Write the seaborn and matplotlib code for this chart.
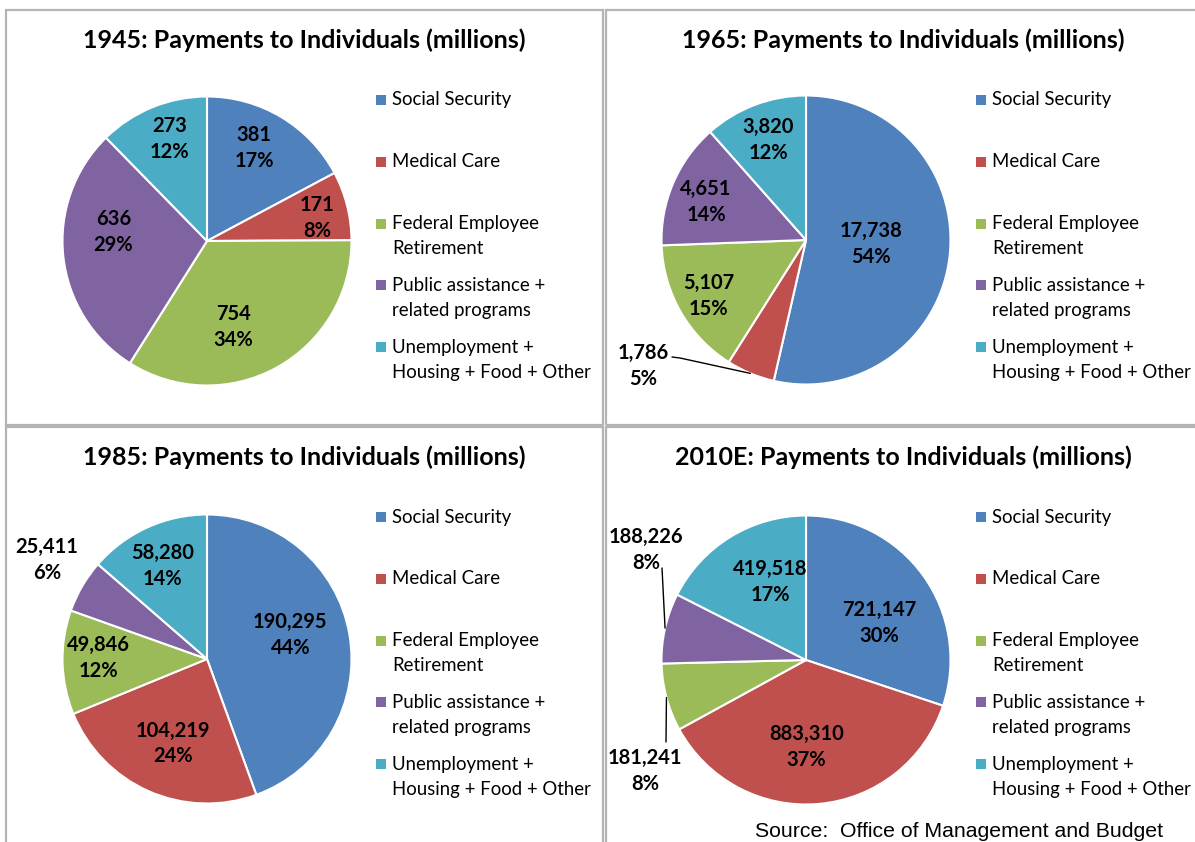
import numpy as np
import matplotlib
matplotlib.use("Agg")
import matplotlib.pyplot as plt
import seaborn as sns
from matplotlib.patches import Rectangle

# ---------------- data ----------------
categories = ["Social Security", "Medical Care", "Federal Employee\nRetirement",
              "Public assistance +\nrelated programs", "Unemployment +\nHousing + Food + Other"]
years = ["1945", "1965", "1985", "2010E"]
values_1945 = [381, 171, 754, 636, 273]
values_1965 = [17738, 1786, 5107, 4651, 3820]
values_1985 = [190295, 104219, 49846, 25411, 58280]
values_2010 = [721147, 883310, 181241, 188226, 419518]
pct_1945 = [17, 8, 34, 29, 12]
pct_1965 = [54, 5, 15, 14, 12]
pct_1985 = [44, 24, 12, 6, 14]
pct_2010 = [30, 37, 8, 8, 17]
title_suffix = ": Payments to Individuals (millions)"
source_text = "Source:  Office of Management and Budget"

# ---------------- style ----------------
colors = ["#4F81BD", "#C0504D", "#9BBB59", "#8064A2", "#4BACC6"]
W, H = 1195, 842
R = 144.5

sns.set_theme(style="white")
plt.rcParams['font.family'] = ['Lato', 'DejaVu Sans']

panels = [(6, 10, 603, 425), (606, 10, 1201, 425), (6, 427, 603, 852), (606, 427, 1201, 852)]
centers = [(207, 241), (806, 240), (207, 659), (806, 660)]
# label placement: ('in', angle shift deg, radial fraction) or
# ('out', dx, dy (px from centre, screen), leader points relative to label centre)
label_styles = [
    [('in', 4, 0.72), ('in', -2.5, 0.78), ('in', -12, 0.62), ('in', -11.5, 0.65), ('in', -2, 0.75)],
    [('in', 3, 0.45), ('out', -163, 126, [(37, -8), (29, -9)]), ('in', 0, 0.78), ('in', 2.4, 0.74), ('in', 0, 0.74)],
    [('in', 6, 0.60), ('in', 2, 0.63), ('in', -1.8, 0.75), ('out', -160, -99, None), ('in', 1, 0.71)],
    [('in', -9, 0.57), ('in', -5, 0.60), ('out', -161, 111, [(21, -29)]), ('out', -160, -110, [(16, 18)]), ('in', -7, 0.59)],
]
all_values = [values_1945, values_1965, values_1985, values_2010]
all_pcts = [pct_1945, pct_1965, pct_1985, pct_2010]

fig = plt.figure(figsize=(W / 100, H / 100), dpi=100)
ax = fig.add_axes([0, 0, 1, 1])


def Y(y):
    return H - y


LINE = 26
for p in range(4):
    x0, y0, x1, y1 = panels[p]
    cx, cy = centers[p]
    vals, pcts = all_values[p], all_pcts[p]
    ax.add_patch(Rectangle((x0, Y(y1)), x1 - x0, y1 - y0, fill=False,
                           ec='#B4B4B4', lw=1.6, zorder=0))
    wedges, _ = ax.pie(vals, colors=colors, startangle=90, counterclock=False,
                       center=(cx, Y(cy)), radius=R,
                       wedgeprops=dict(edgecolor='white', linewidth=1.5))
    for i, w in enumerate(wedges):
        mid = (w.theta1 + w.theta2) / 2.0
        st = label_styles[p][i]
        lines = [f"{vals[i]:,}", f"{pcts[i]}%"]
        if st[0] == 'in':
            a = np.deg2rad(mid + st[1])
            lx = cx + st[2] * R * np.cos(a)
            ly = cy - st[2] * R * np.sin(a)
        else:
            lx, ly = cx + st[1], cy + st[2]
            if st[3] is not None:
                am = np.deg2rad(mid)
                ex, ey = cx + R * np.cos(am), cy - R * np.sin(am)
                pts = [(ex, ey)] + [(lx + dx, ly + dy) for dx, dy in st[3]]
                ax.plot([q[0] for q in pts], [Y(q[1]) for q in pts], color='black', lw=1.0)
        for k, t in enumerate(lines):
            ax.text(lx, Y(ly + (k - 0.5) * LINE), t, ha='center', va='center',
                    fontsize=14.5, fontweight='bold', color='black')
    # title
    ax.text((x0 + x1) / 2 if p in (0, 2) else 903.5, Y(y0 + 30), years[p] + title_suffix,
            ha='center', va='center', fontsize=18, fontweight='bold', color='black')
    # legend
    ly0 = y0 + 90
    for i, cat in enumerate(categories):
        yy = ly0 + i * 61.8
        ax.add_patch(Rectangle((x0 + 370, Y(yy + 5)), 10, 10, color=colors[i], lw=0))
        for k, t in enumerate(cat.split('\n')):
            ax.text(x0 + 386, Y(yy + k * 25), t, ha='left', va='center',
                    fontsize=13.4, color='black')

ax.text(755, Y(837), source_text, ha='left', va='baseline', fontsize=15.3,
        family='Liberation Sans', color='black')

ax.set_xlim(0, W)
ax.set_ylim(0, H)
ax.set_aspect('auto')
ax.axis('off')
fig.savefig("out.png", dpi=100)
